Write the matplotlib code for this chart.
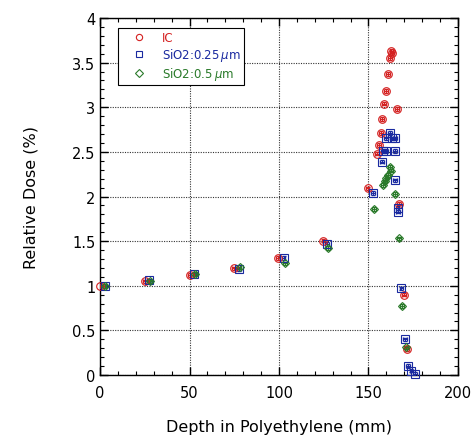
import numpy as np
import matplotlib
matplotlib.use('Agg')
import matplotlib.pyplot as plt
from matplotlib.ticker import MultipleLocator

# depth (mm) and relative dose (%)
ic_depth = [0, 25, 50, 75, 99.5, 124.8, 149.5, 154.7, 155.9, 157, 157.5, 158.7,
            159.8, 160.9, 162.2, 162.8, 163.2, 166.1, 167.2, 169.8, 171.7]
ic_dose = [1.0, 1.05, 1.12, 1.195, 1.31, 1.505, 2.09, 2.48, 2.58, 2.71, 2.87, 3.04,
           3.18, 3.37, 3.55, 3.63, 3.61, 2.98, 1.92, 0.90, 0.29]

sio2_25_depth = [2.8, 27.5, 52.7, 77.7, 102.6, 127, 152.7, 157.5, 158.3, 160, 164.8,
                 160, 163.3, 165, 162, 165, 166.3, 166.7, 168.4, 170.4, 172.2, 174, 176]
sio2_25_dose = [1.0, 1.06, 1.13, 1.19, 1.31, 1.47, 2.04, 2.39, 2.51, 2.51, 2.51,
                2.65, 2.65, 2.65, 2.71, 2.18, 1.87, 1.83, 0.97, 0.40, 0.10, 0.05, 0.01]

sio2_5_depth = [2.5, 28, 53, 78, 103.3, 127.5, 153.2, 158.3, 159.2, 160.1, 161,
                162.6, 162, 164.8, 167, 168.7, 171]
sio2_5_dose = [1.0, 1.05, 1.13, 1.21, 1.25, 1.42, 1.86, 2.13, 2.17, 2.21, 2.24,
               2.29, 2.33, 2.03, 1.53, 0.77, 0.31]

series = [
    (ic_depth, ic_dose, 'o', '#d42020', 'IC'),
    (sio2_25_depth, sio2_25_dose, 's', '#1a2aa0', r'SiO2:0.25$\,\mu$m'),
    (sio2_5_depth, sio2_5_dose, 'D', '#2a7a2a', r'SiO2:0.5$\,\mu$m'),
]

fig = plt.figure(figsize=(4.72, 4.39), dpi=100)
ax = fig.add_axes([0.212, 0.1435, 0.758, 0.8132])

handles = []
for x, y, m, c, lab in series:
    ms = 4.5 if m == 'D' else 5.5
    ax.errorbar(x, y, xerr=1.0, yerr=0.02, fmt='none', ecolor=c, elinewidth=0.7,
                capsize=1.2, zorder=3)
    h, = ax.plot(x, y, m, mfc='none', mec=c, ms=ms, mew=0.8, linestyle='none',
                 zorder=4, clip_on=False)
    handles.append(h)

ax.set_xlim(0, 200)
ax.set_ylim(0, 4)
ax.xaxis.set_major_locator(MultipleLocator(50))
ax.xaxis.set_minor_locator(MultipleLocator(10))
ax.yaxis.set_major_locator(MultipleLocator(0.5))
ax.yaxis.set_minor_locator(MultipleLocator(0.1))
ax.yaxis.set_major_formatter(plt.FuncFormatter(lambda v, p: '%g' % v))
ax.tick_params(which='both', direction='in', top=True, right=True, labelsize=10.5)
ax.tick_params(which='major', length=6, width=1)
ax.tick_params(which='minor', length=3, width=0.8)
ax.tick_params(axis='x', pad=7)
ax.grid(True, which='major', linestyle=(0, (1, 1.2)), color='#333333', linewidth=0.8)
for s in ax.spines.values():
    s.set_linewidth(1.0)

ax.set_xlabel('Depth in Polyethylene (mm)', fontsize=11.5, labelpad=14)
ax.set_ylabel('Relative Dose (%)', fontsize=11.5, labelpad=24)

leg = ax.legend(handles, [s[4] for s in series], loc='upper left',
                bbox_to_anchor=(0.05, 0.973), fontsize=8.5, frameon=True,
                fancybox=False, edgecolor='black', framealpha=1,
                handlelength=3.0, handletextpad=0.4, borderpad=0.3,
                labelspacing=0.15, borderaxespad=0)
leg.get_frame().set_linewidth(0.8)
for t, s in zip(leg.get_texts(), series):
    t.set_color(s[3])
for h in leg.legend_handles:
    h.set_markersize(4.5)

fig.savefig('out.png', dpi=100)
